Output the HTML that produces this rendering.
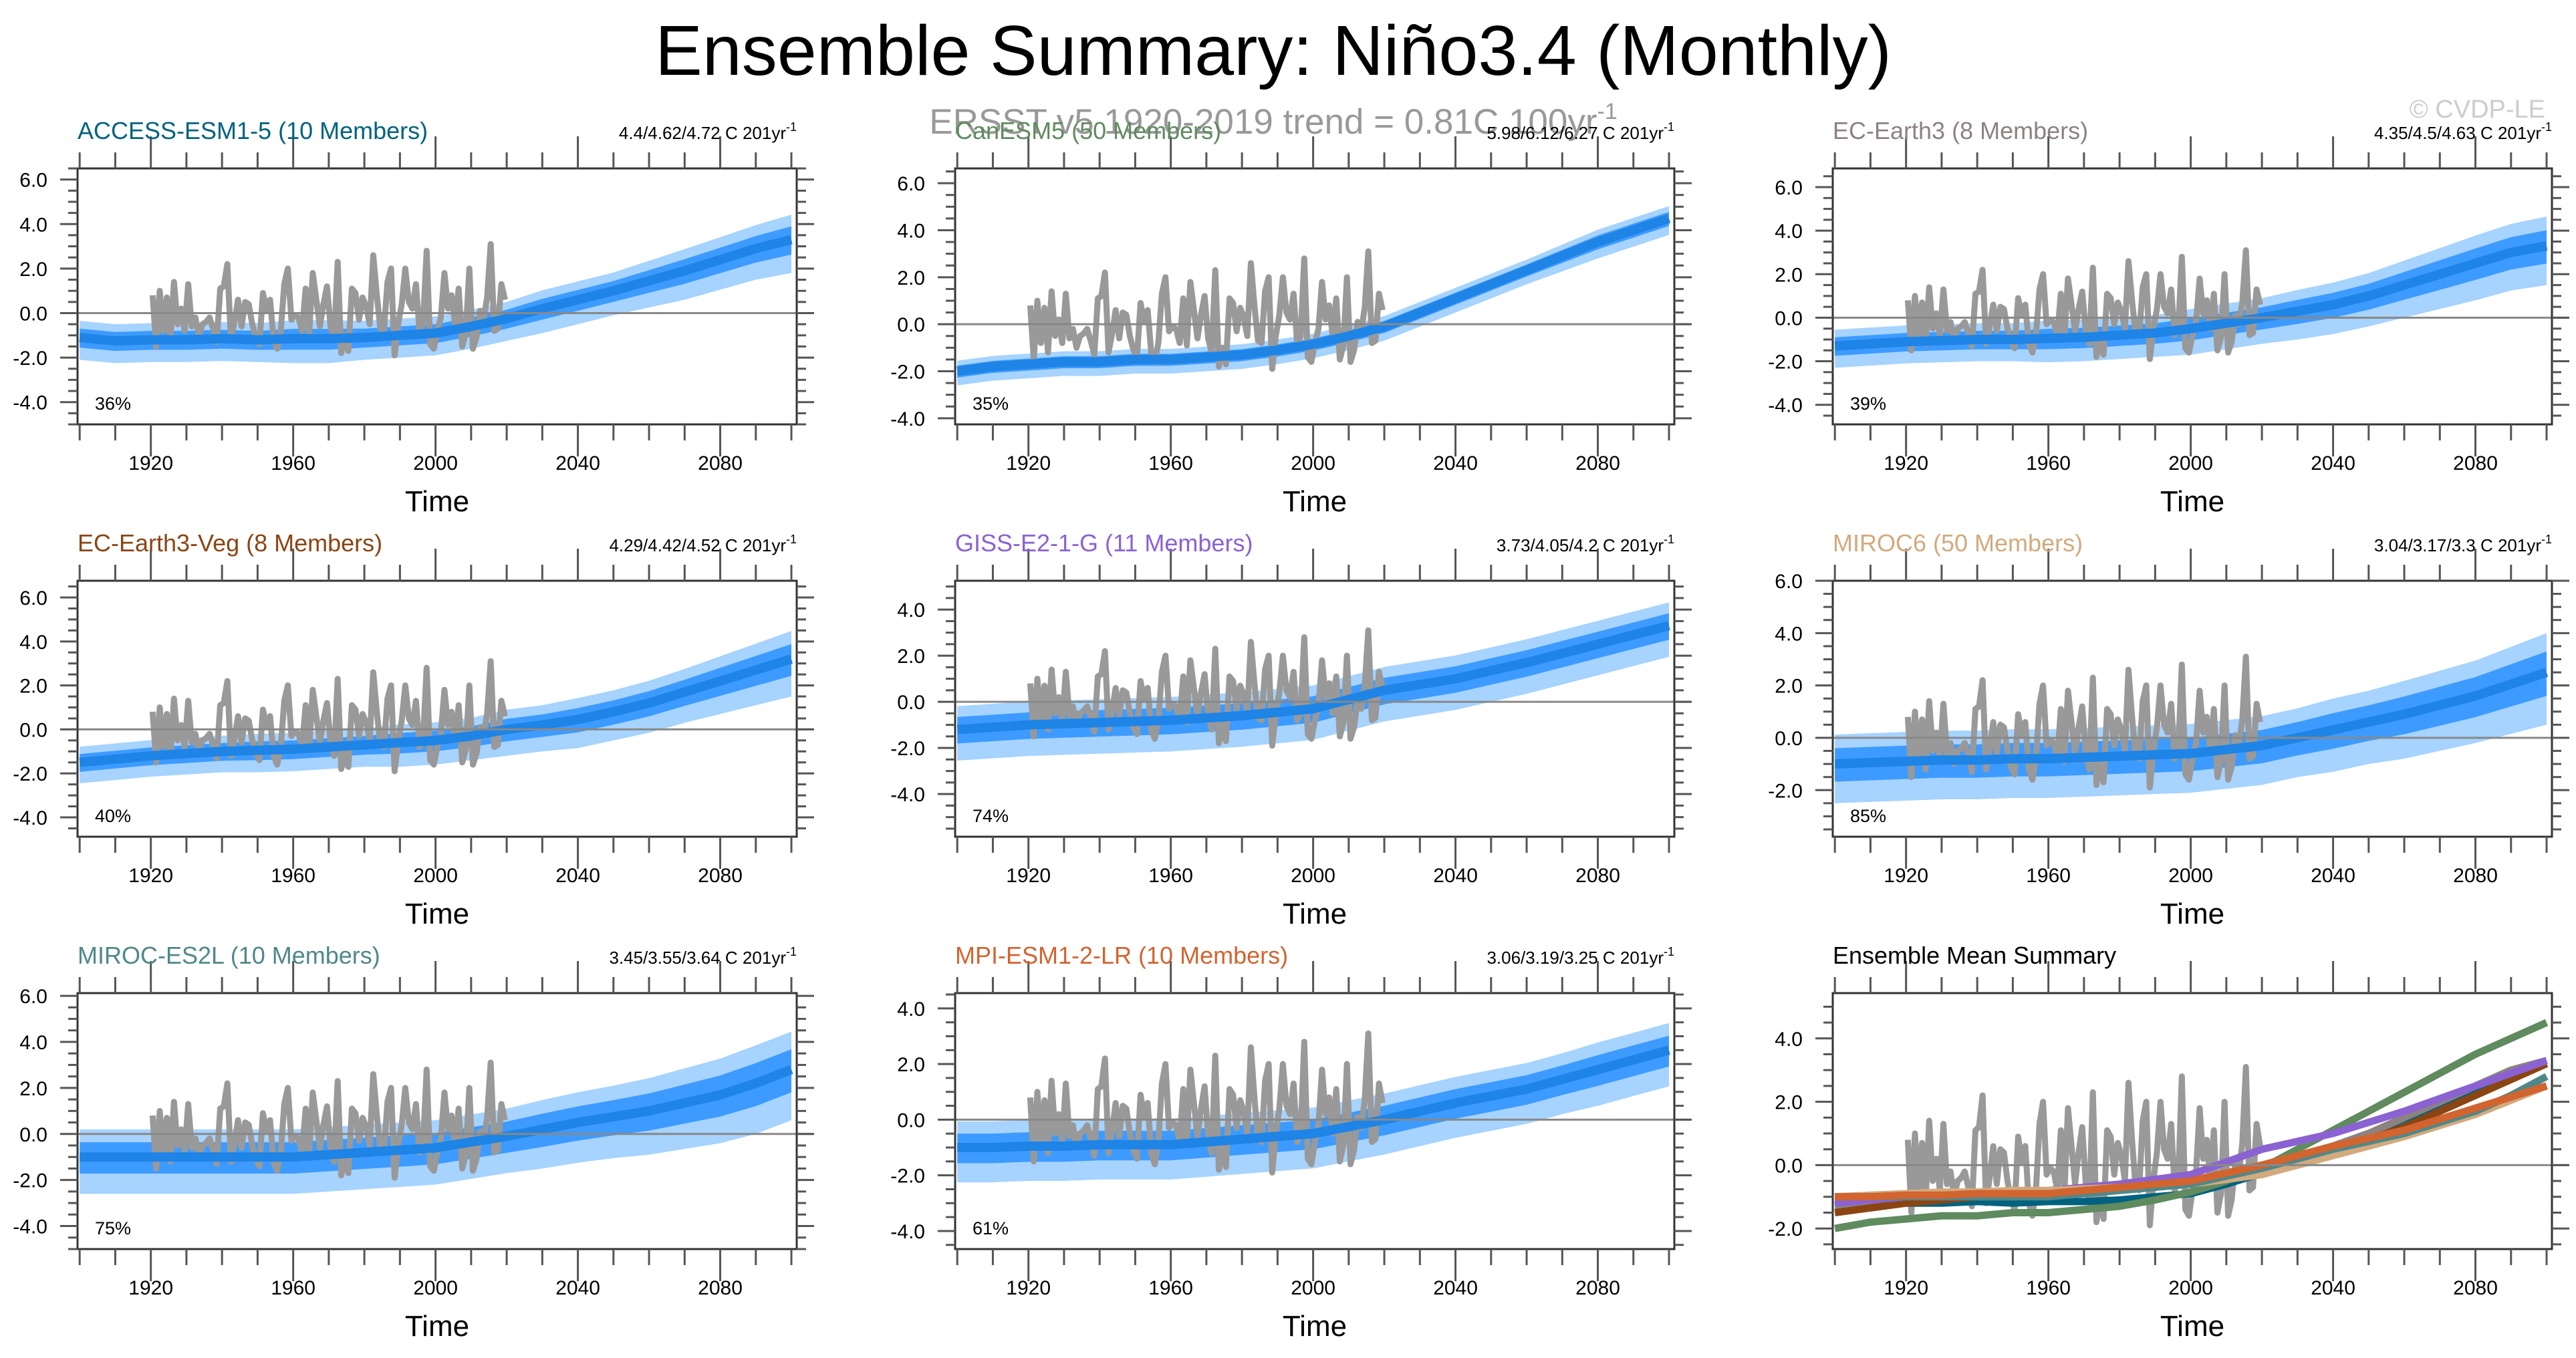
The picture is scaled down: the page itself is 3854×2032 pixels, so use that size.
<!DOCTYPE html>
<html><head><meta charset="utf-8"><style>
html,body{margin:0;padding:0;background:#fff;}
svg{display:block;font-family:"Liberation Sans",Arial,sans-serif;}
</style></head><body>
<svg id="fig" width="3854" height="2032" viewBox="0 0 3854 2032" xmlns="http://www.w3.org/2000/svg">
<rect width="3854" height="2032" fill="#fff"/>
<text x="1905" y="112" font-size="106" text-anchor="middle" fill="#000">Ensemble Summary: Niño3.4 (Monthly)</text>
<text x="1905" y="200" font-size="53" text-anchor="middle" fill="#999">ERSST v5 1920-2019 trend = 0.81C 100yr<tspan font-size="34" dy="-22">-1</tspan></text>
<text x="3808" y="176" font-size="38" text-anchor="end" fill="#ccc">© CVDP-LE</text>
<g id="panels"></g>
</svg>
<script>
// ---- data (10-year steps 1900..2100) ----
const decades = [1900,1910,1920,1930,1940,1950,1960,1970,1980,1990,2000,2010,2020,2030,2040,2050,2060,2070,2080,2090,2100];
const meanAccess = [-1.1,-1.25,-1.2,-1.2,-1.15,-1.2,-1.15,-1.15,-1.1,-1.0,-0.9,-0.6,-0.25,0.2,0.6,1.0,1.45,1.9,2.4,2.9,3.3];
const meanCan = [-2.0,-1.8,-1.7,-1.6,-1.6,-1.5,-1.5,-1.4,-1.3,-1.1,-0.85,-0.5,-0.1,0.5,1.1,1.7,2.3,2.9,3.5,4.0,4.5];
const meanEC = [-1.3,-1.2,-1.1,-1.05,-1.0,-1.0,-0.95,-0.9,-0.8,-0.7,-0.5,-0.25,0.0,0.3,0.6,1.0,1.5,2.0,2.5,3.0,3.3];
const meanECV = [-1.5,-1.35,-1.2,-1.1,-1.0,-0.95,-0.9,-0.8,-0.7,-0.6,-0.5,-0.3,0.0,0.2,0.45,0.8,1.2,1.7,2.2,2.7,3.2];
const meanGISS = [-1.2,-1.1,-1.0,-0.95,-0.9,-0.85,-0.8,-0.7,-0.6,-0.45,-0.3,0.1,0.5,0.75,1.0,1.35,1.7,2.1,2.5,2.9,3.3];
const meanMIROC6 = [-1.0,-0.95,-0.9,-0.85,-0.85,-0.8,-0.8,-0.75,-0.7,-0.65,-0.6,-0.45,-0.3,0.0,0.3,0.6,0.9,1.25,1.6,2.05,2.5];
const meanES2L = [-1.0,-1.0,-1.0,-1.0,-1.0,-1.0,-1.0,-0.9,-0.8,-0.7,-0.6,-0.35,-0.1,0.2,0.5,0.75,1.0,1.35,1.7,2.2,2.8];
const meanMPI = [-1.0,-1.0,-0.95,-0.95,-0.9,-0.9,-0.9,-0.8,-0.7,-0.6,-0.5,-0.25,0.0,0.3,0.6,0.85,1.1,1.45,1.8,2.15,2.5];
const spreadAccess = [1.0,1.0,1.0,1.0,1.0,1.0,1.1,1.1,1.0,1.0,1.0,1.0,1.0,1.1,1.1,1.1,1.2,1.3,1.35,1.4,1.5];
const spreadCan = [0.6,0.6,0.6,0.6,0.6,0.6,0.6,0.6,0.6,0.6,0.6,0.6,0.6,0.6,0.6,0.6,0.6,0.65,0.7,0.7,0.7];
const spreadEC = [1.0,1.0,1.0,1.0,1.0,1.0,1.1,1.1,1.1,1.1,1.2,1.2,1.2,1.3,1.35,1.4,1.5,1.6,1.7,1.75,1.8];
const spreadECV = [0.95,0.95,0.95,0.95,0.95,1.0,1.0,1.0,1.0,1.1,1.1,1.1,1.2,1.2,1.3,1.3,1.35,1.4,1.5,1.6,1.7];
const spreadGISS = [1.35,1.35,1.35,1.35,1.35,1.35,1.35,1.35,1.35,1.35,1.35,1.35,1.35,1.35,1.35,1.35,1.35,1.35,1.35,1.35,1.35];
const spreadMIROC6 = [1.5,1.5,1.5,1.5,1.5,1.5,1.5,1.5,1.5,1.5,1.5,1.5,1.5,1.5,1.6,1.6,1.7,1.75,1.8,1.9,2.0];
const spreadES2L = [1.6,1.6,1.6,1.6,1.6,1.6,1.6,1.6,1.6,1.6,1.6,1.6,1.6,1.7,1.75,1.8,1.9,2.0,2.1,2.2,2.2];
const spreadMPI = [1.25,1.25,1.25,1.25,1.25,1.25,1.25,1.25,1.25,1.25,1.25,1.25,1.25,1.25,1.25,1.25,1.25,1.25,1.3,1.3,1.3];
// observations ERSST v5, 1920..2019 (annual)
const obsYears0 = 1920;
const obsValues = [0.8,-1.5,1.0,-0.8,0.7,-1.2,1.4,-0.5,0.2,-0.8,
1.3,-0.6,-0.2,-1.0,-0.5,-0.4,-0.2,-0.7,-1.3,1.1,
1.2,2.2,-1.2,-0.4,0.6,-0.6,0.5,0.4,-0.5,-1.1,
-1.4,0.9,0.1,0.6,-1.2,-1.6,-0.8,1.3,2.0,-0.3,
-0.1,-0.2,-0.8,1.1,-0.9,1.8,0.6,-0.6,0.4,1.2,
-0.6,-1.2,2.3,-1.8,-1.0,-1.7,1.1,0.9,-0.3,0.7,
0.3,-0.5,2.6,0.8,-0.7,-0.8,1.4,2.0,-1.9,-0.5,
0.4,2.0,0.5,0.2,1.3,-0.8,-0.5,2.8,-1.4,-1.6,
-0.8,-0.2,1.8,0.2,0.8,-0.5,1.1,-1.5,-0.9,2.0,
-1.6,-1.1,0.1,-0.3,0.7,3.1,-0.8,-0.7,1.3,0.6];
const panelTitles = ["ACCESS-ESM1-5 (10 Members)","CanESM5 (50 Members)","EC-Earth3 (8 Members)","EC-Earth3-Veg (8 Members)","GISS-E2-1-G (11 Members)","MIROC6 (50 Members)","MIROC-ES2L (10 Members)","MPI-ESM1-2-LR (10 Members)"];
const panelStats = ["4.4/4.62/4.72","5.98/6.12/6.27","4.35/4.5/4.63","4.29/4.42/4.52","3.73/4.05/4.2","3.04/3.17/3.3","3.45/3.55/3.64","3.06/3.19/3.25"];
const panelPct = ["36%","35%","39%","40%","74%","85%","75%","61%"];
const yMins = [-5.0,-4.26,-4.9,-4.88,-5.85,-3.78,-5.0,-4.65,-2.65];
const yMaxs = [6.5,6.63,6.86,6.76,5.25,6.0,6.12,4.55,5.43];
const yTickLo = [-4,-4,-4,-4,-4,-2,-4,-4,-2];
const yTickHi = [6,6,6,6,4,6,6,4,4];
const xTickLabels = [1920,1960,2000,2040,2080];

const means = [meanAccess,meanCan,meanEC,meanECV,meanGISS,meanMIROC6,meanES2L,meanMPI];
const spreads = [spreadAccess,spreadCan,spreadEC,spreadECV,spreadGISS,spreadMIROC6,spreadES2L,spreadMPI];
const titleColors = ["#00627f","#5f8b5f","#8c8282","#8b4513","#8a62d2","#d2aa7d","#4f888a","#d2642f"];

const NS="http://www.w3.org/2000/svg";
const root=document.getElementById('panels');
function mk(tag,attrs,parent){const e=document.createElementNS(NS,tag);for(const k in attrs)e.setAttribute(k,attrs[k]);(parent||root).appendChild(e);return e;}
const X0=1899.4,X1=2101.5,W=1076,H=383;

for(let p=0;p<9;p++){
  const col=p%3,row=Math.floor(p/3);
  const bx=116+col*1313,by=252+row*617;
  const g=mk('g',{});
  
  
  const ymin=yMins[p],ymax=yMaxs[p];
  const sx=t=>bx+(t-X0)/(X1-X0)*W;
  const sy=v=>by+(ymax-v)/(ymax-ymin)*H;
  const cid='clip'+p;
  const cp=mk('clipPath',{id:cid},g);mk('rect',{x:bx,y:by,width:W,height:H},cp);
  const plot=mk('g',{'clip-path':'url(#'+cid+')'},g);
  if(p<8){
    const m=means[p],s=spreads[p];
    const band=(fu,fl)=>{let up=[],lo=[];for(let i=0;i<decades.length;i++){up.push(sx(decades[i])+','+sy(m[i]+s[i]*fu));lo.unshift(sx(decades[i])+','+sy(m[i]-s[i]*fl));}return up.concat(lo).join(' ');};
    const ob=mk('polygon',{points:band(0.75,1.0),fill:'#a6d3ff'},plot);
    
    
    const ib=mk('polygon',{points:band(0.4,0.45),fill:'#3d9bff'},plot);
    
    
  }
  // zero line
  const zl=mk('line',{x1:bx,x2:bx+W+24,y1:sy(0),y2:sy(0),stroke:'#888','stroke-width':3},g);
  
  
  // observations
  const op=obsValues.map((v,i)=>sx(obsYears0+i+0.5)+','+sy(v)).join(' ');
  const obs=mk('polyline',{points:op,fill:'none',stroke:'#999','stroke-width':9,'stroke-linejoin':'round'},plot);
  
  
  if(p<8){
    const m=means[p];
    const ml=mk('polyline',{points:m.map((v,i)=>sx(decades[i])+','+sy(v)).join(' '),fill:'none',stroke:'#1e84e6','stroke-width':14,'stroke-linejoin':'round'},plot);
    
    
  } else {
    for(let k=0;k<8;k++){
      const m=means[k];
      const ml=mk('polyline',{points:m.map((v,i)=>sx(decades[i])+','+sy(v)).join(' '),fill:'none',stroke:titleColors[k],'stroke-width':11,'stroke-linejoin':'round'},plot);
      
      
    }
  }
  // frame
  const fr=mk('rect',{x:bx,y:by,width:W,height:H,fill:'none',stroke:'#333','stroke-width':3},g);
  
  
  // x ticks
  for(let yr=1900;yr<=2100;yr+=10){
    const major=(yr-1920)%40===0, L=major?48:24, x=sx(yr);
    mk('line',{x1:x,x2:x,y1:by+H,y2:by+H+L,stroke:'#555','stroke-width':3},g);
    mk('line',{x1:x,x2:x,y1:by,y2:by-L,stroke:'#555','stroke-width':3},g);
  }
  xTickLabels.forEach(v=>{const t=mk('text',{x:sx(v),y:by+H+68,'font-size':30,'text-anchor':'middle',fill:'#000'},g);t.textContent=v;
    
    });
  const xt=mk('text',{x:bx+W/2,y:by+H+130,'font-size':44,'text-anchor':'middle',fill:'#000'},g);xt.textContent='Time';
  
  
  // y ticks
  for(let v=Math.ceil(ymin*2)/2;v<=ymax+1e-6;v+=0.5){
    const major=Math.abs(v-Math.round(v/2)*2)<1e-6, L=major?26:14, y=sy(v);
    mk('line',{x1:bx,x2:bx-L,y1:y,y2:y,stroke:'#555','stroke-width':3},g);
    mk('line',{x1:bx+W,x2:bx+W+L,y1:y,y2:y,stroke:'#555','stroke-width':3},g);
  }
  for(let v=yTickLo[p];v<=yTickHi[p];v+=2){
    const t=mk('text',{x:bx-45,y:sy(v)+11,'font-size':30,'text-anchor':'end',fill:'#000'},g);t.textContent=v.toFixed(1);
    
    
  }
  // titles
  const tt=mk('text',{x:bx,y:by-44,'font-size':36,fill:p<8?titleColors[p]:'#000'},g);
  tt.textContent=p<8?panelTitles[p]:'Ensemble Mean Summary';
  
  
  if(p<8){
    const st=mk('text',{x:bx+W,y:by-44,'font-size':26,'text-anchor':'end',fill:'#000'},g);
    st.textContent=panelStats[p]+' C 201yr';
    const sup=mk('tspan',{'font-size':18,dy:-12},st);sup.textContent='-1';
    
    
    const pc=mk('text',{x:bx+26,y:by+H-22,'font-size':27,fill:'#000'},g);pc.textContent=panelPct[p];
    
    
  }
}
</script>
</body></html>
